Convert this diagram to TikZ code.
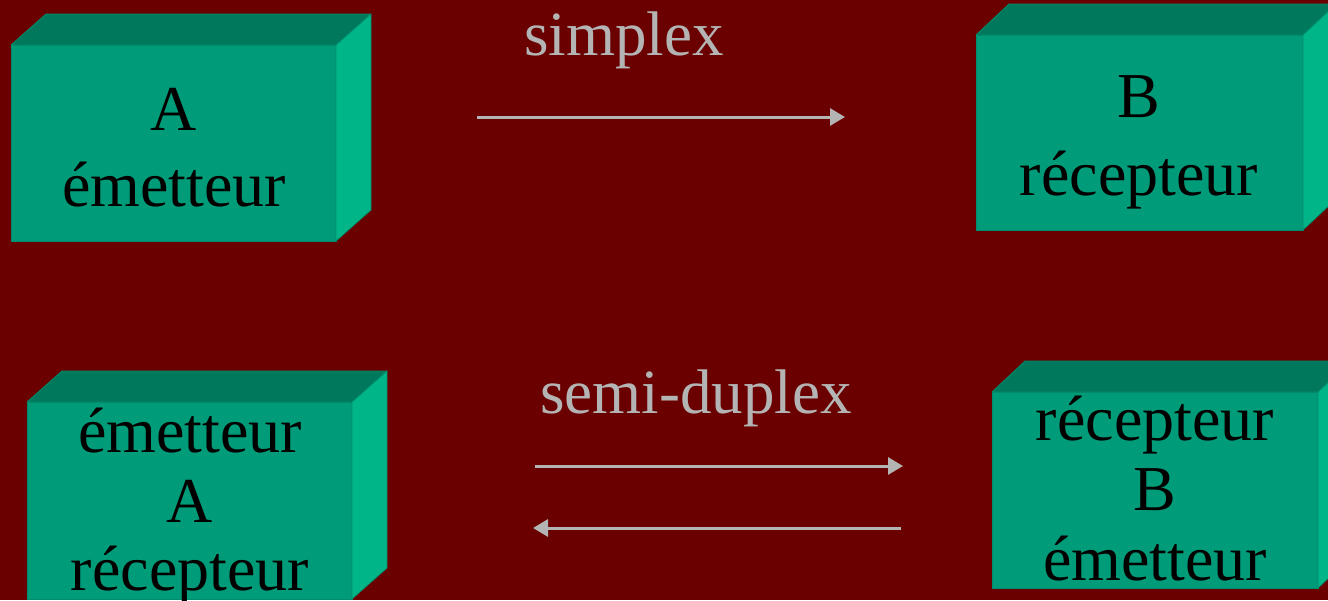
\documentclass[tikz,border=0pt]{standalone}
\usepackage{fontspec}
\setmainfont{Liberation Serif}
\usetikzlibrary{arrows.meta}
\definecolor{bgred}{RGB}{106,0,0}
\definecolor{frontc}{RGB}{0,155,120}
\definecolor{topc}{RGB}{0,120,92}
\definecolor{sidec}{RGB}{0,182,136}
\definecolor{edgec}{RGB}{0,140,108}
\definecolor{lgray}{RGB}{180,180,180}
\tikzset{
  front/.style={rectangle, fill=frontc, draw=edgec, line width=0.8pt, inner sep=0pt, outer sep=0pt},
  topface/.style={fill=topc, draw=edgec, line width=0.8pt, line join=round},
  sideface/.style={fill=sidec, draw=edgec, line width=0.8pt, line join=round},
  boxtxt/.style={anchor=base, inner sep=0pt, text=black, font=\fontsize{64}{64}\selectfont},
  lbl/.style={anchor=base, inner sep=0pt, text=lgray, font=\fontsize{63}{63}\selectfont},
  arr/.style={draw=lgray, line width=3pt, -{Triangle[length=15pt,width=17pt]}}
}
\newcommand{\mycube}[7]{%
  % name, x1, y1, x2, y2, dx, dy(up)
  \node[front, minimum width={(#4-#2)*1pt}, minimum height={(#5-#3)*1pt}] (#1) at ({(#2+#4)/2},{(#3+#5)/2}) {};
  \path[topface] (#1.north west) -- ++(#6,-#7) -- ++({#4-#2},0) -- (#1.north east) -- cycle;
  \path[sideface] (#1.north east) -- ++(#6,-#7) -- ++(0,{#5-#3}) -- (#1.south east) -- cycle;
}
\begin{document}
\begin{tikzpicture}[x=1pt,y=-1pt]
\fill[bgred] (0,0) rectangle (1328,600);
\useasboundingbox (0,0) rectangle (1328,600);

\mycube{b1}{11}{45}{336}{241}{35}{31}
\mycube{b2}{976}{35}{1303}{230}{33}{31}
\mycube{b3}{27}{402}{352}{599}{35}{31}
\mycube{b4}{992}{392}{1318}{588}{33}{31}

\node[boxtxt] (b1a) at (174,130) {A};
\node[boxtxt] (b1b) at (174,206) {émetteur};
\node[boxtxt] (b2a) at (1139,117) {B};
\node[boxtxt] (b2b) at (1139,195) {récepteur};
\node[boxtxt] (b3a) at (190,452) {émetteur};
\node[boxtxt] (b3b) at (190,522) {A};
\node[boxtxt] (b3c) at (190,590) {récepteur};
\node[boxtxt] (b4a) at (1155,440) {récepteur};
\node[boxtxt] (b4b) at (1155,510) {B};
\node[boxtxt] (b4c) at (1155,580) {émetteur};

\node[lbl] (simplex) at (624,55) {simplex};
\node[lbl] (semid) at (696,413) {semi-duplex};

\coordinate (s1) at (477,117);
\coordinate (s2) at (845,117);
\coordinate (d1) at (535,466);
\coordinate (d2) at (903,466);
\coordinate (d3) at (901,528);
\coordinate (d4) at (533,528);
\draw[arr] (s1) -- (s2);
\draw[arr] (d1) -- (d2);
\draw[arr] (d3) -- (d4);
\end{tikzpicture}
\end{document}
